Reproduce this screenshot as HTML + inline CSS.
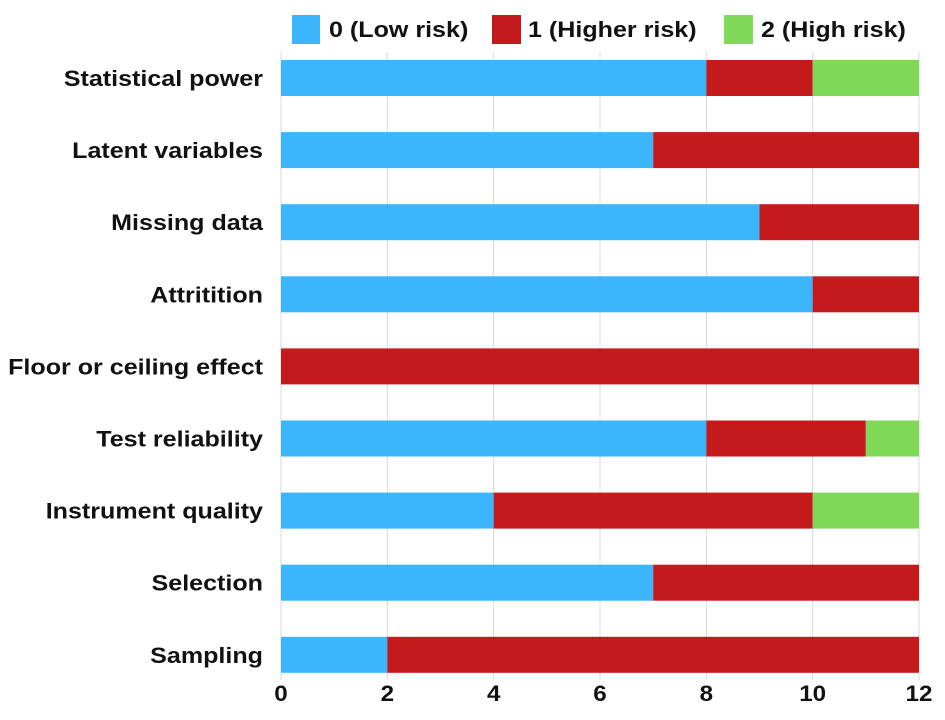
<!DOCTYPE html>
<html><head><meta charset="utf-8"><style>
body{margin:0;background:#fff;}
svg text{font-family:"Liberation Sans",sans-serif;font-weight:bold;fill:#111;}
</style></head><body>
<svg id="chart" width="945" height="715">
<g id="grid"></g>
<g id="bars"></g>
<g id="ylabels"></g>
<g id="xticks"></g>
<g>
<rect x="292" y="15" width="28" height="29" fill="#3bb5fb"/>
<text transform="translate(329,37) scale(1.14,1)" font-size="22">0 (Low risk)</text>
<rect x="492" y="15" width="29" height="29" fill="#c41a1c"/>
<text transform="translate(528,37) scale(1.14,1)" font-size="22">1 (Higher risk)</text>
<rect x="724" y="15" width="29" height="29" fill="#7fd957"/>
<text transform="translate(761,37) scale(1.14,1)" font-size="22">2 (High risk)</text>
</g>
</svg>
<script>
const categories=["Statistical power","Latent variables","Missing data","Attritition","Floor or ceiling effect","Test reliability","Instrument quality","Selection","Sampling"];
const lowRisk=[8,7,9,10,0,8,4,7,2];
const higherRisk=[2,5,3,2,12,3,6,5,10];
const highRisk=[2,0,0,0,0,1,2,0,0];
const xTicks=[0,2,4,6,8,10,12];
const NS="http://www.w3.org/2000/svg";
const x0=281,x1=919,xMax=12,yTop=60,step=72.1,bh=36;
const xs=v=>x0+(x1-x0)*v/xMax;
const yc=i=>yTop+i*step;
function mk(tag,attrs,parent){const e=document.createElementNS(NS,tag);for(const k in attrs)e.setAttribute(k,attrs[k]);parent.appendChild(e);return e;}
const grid=document.getElementById('grid'),bars=document.getElementById('bars'),yl=document.getElementById('ylabels'),xt=document.getElementById('xticks');
xTicks.forEach(t=>{
 const l=mk('line',{x1:xs(t),x2:xs(t),y1:52,y2:680,stroke:'#d8d8d8','stroke-width':1},grid);
 
 
 const tx=mk('text',{transform:'translate('+xs(t)+',701) scale(1.1,1)','text-anchor':'middle','font-size':22},xt);
 tx.textContent=t;
 
 
});
const series=[[lowRisk,'#3bb5fb','low'],[higherRisk,'#c41a1c','higher'],[highRisk,'#7fd957','high']];
categories.forEach((c,i)=>{
 const y=yc(i);
 const t=mk('text',{transform:'translate(263,'+(y+bh/2+8)+') scale(1.14,1)','text-anchor':'end','font-size':22},yl);
 t.textContent=c;
 
 
 let acc=0;
 series.forEach(([arr,col,nm])=>{
  const v=arr[i];
  if(v>0){
   const r=mk('rect',{x:xs(acc),y:y,width:xs(acc+v)-xs(acc),height:bh,fill:col},bars);
   
   
  }
  acc+=v;
 });
});
</script>
</body></html>
